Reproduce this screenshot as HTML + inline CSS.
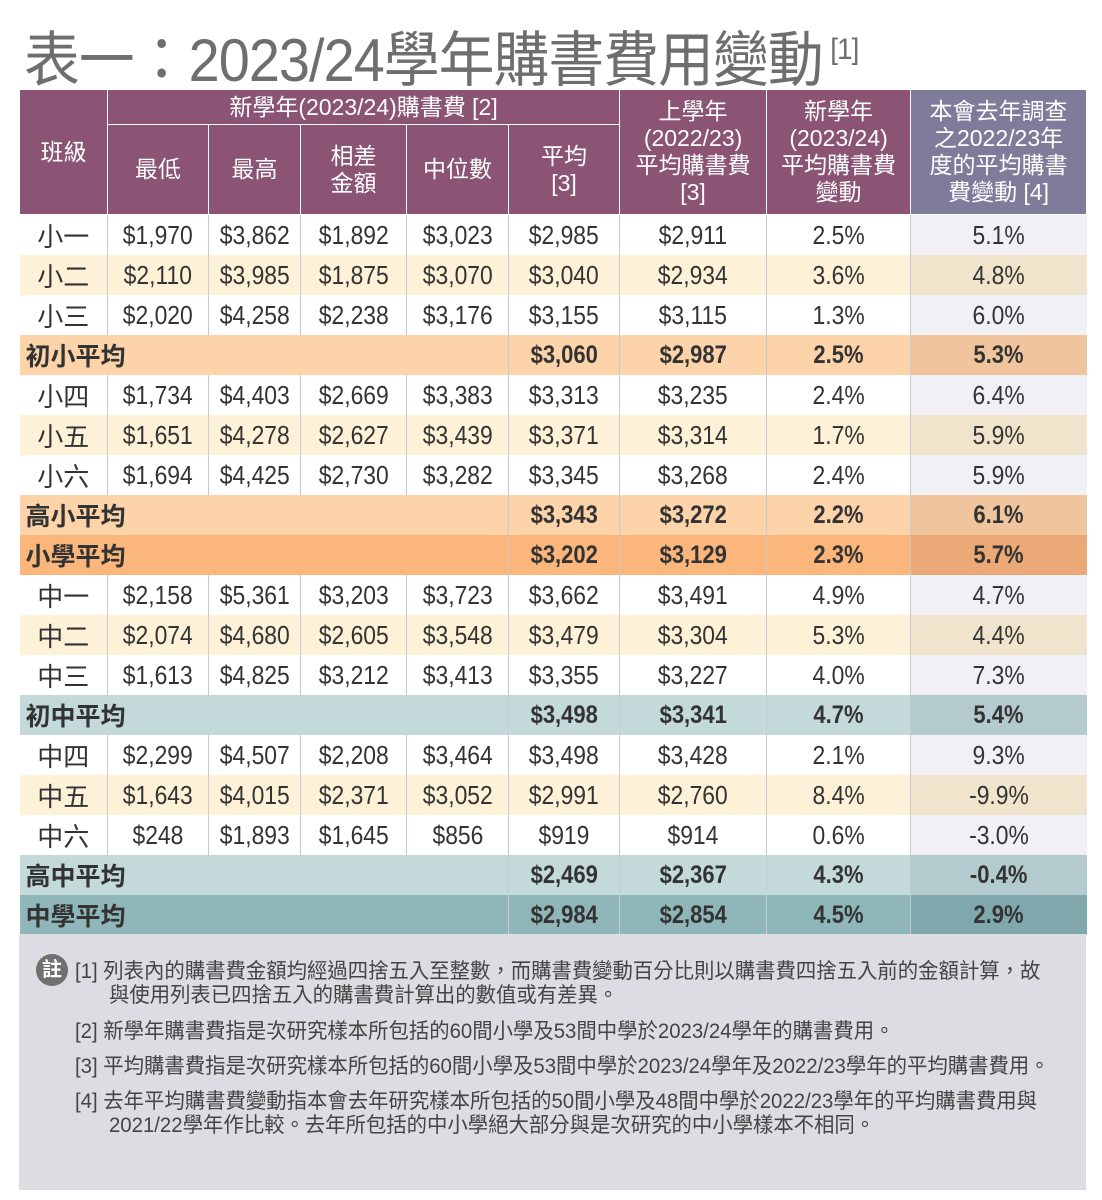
<!DOCTYPE html>
<html><head><meta charset="utf-8"><style>
body{margin:0;width:1102px;height:1200px;background:#fff;font-family:"Liberation Sans","Noto Sans CJK TC",sans-serif;position:relative;overflow:hidden}
.t{position:absolute;left:24px;top:12px;font-size:60px;color:#6e6e6e;white-space:nowrap;transform:scaleX(0.93);transform-origin:left top;letter-spacing:-1px}
.t sup{font-size:30px;vertical-align:22px;margin-left:8px}
table{position:absolute;left:19px;top:89px;border-collapse:collapse;table-layout:fixed;width:1067px}
td{padding:0;text-align:center;font-size:26px;color:#333;white-space:nowrap;overflow:hidden}
td span{display:inline-block;transform:scaleX(0.88)}
.h td{background:#8b5475;color:#fff;font-size:23px;line-height:27px;border:1px solid #fff}
.h td.g{background:#7e7b9b}
tr.r td{height:40px;border-left:1px solid #c9c9d6}
tr.r td:first-child{border-left:none}
tr.y td{background:#fdf1d7}
tr.y td:last-child{background:#f1e4cc}
tr.w td:last-child{background:#f0f0f5}
tr.s td{height:40px;font-weight:bold;font-size:25px}
tr.s td.l{text-align:left;padding-left:6px}
tr.a td{background:#fdd3aa} tr.a td:last-child{background:#f0c59d}
tr.b td{background:#fbb67b} tr.b td:last-child{background:#eaa977}
tr.c td{background:#c3d9da} tr.c td:last-child{background:#b3cbce}
tr.d td{background:#8fb6b8} tr.d td:last-child{background:#80a8ac}
tr.s td+td{border-left:1px solid #c9c9d6}
.n{position:absolute;left:19px;top:934px;width:1067px;height:256px;background:#dcdce2;color:#444;font-size:21px}
.n p{position:absolute;margin:0;left:56px;white-space:nowrap;line-height:24px;transform:scaleX(0.97);transform-origin:left top}
.ic{position:absolute;left:17px;top:20px;width:32px;height:32px;border-radius:50%;background:#707070;color:#fff;font-size:20px;text-align:center;line-height:32px;font-weight:bold}
</style></head><body>
<div class="t">表一：2023/24學年購書費用變動<sup>[1]</sup></div>
<table>
<colgroup><col style="width:88px"><col style="width:101px"><col style="width:92px"><col style="width:106px"><col style="width:102px"><col style="width:111px"><col style="width:147px"><col style="width:144px"><col style="width:176px"></colgroup>
<tr class="h"><td rowspan="2">班級</td><td colspan="5" style="height:34px">新學年(2023/24)購書費 [2]</td><td rowspan="2">上學年<br>(2022/23)<br>平均購書費<br>[3]</td><td rowspan="2">新學年<br>(2023/24)<br>平均購書費<br>變動</td><td rowspan="2" class="g">本會去年調查<br>之2022/23年<br>度的平均購書<br>費變動 [4]</td></tr>
<tr class="h"><td style="height:89px">最低</td><td>最高</td><td>相差<br>金額</td><td>中位數</td><td>平均<br>[3]</td></tr>
<tr class="r w"><td>小一</td><td><span>$1,970</span></td><td><span>$3,862</span></td><td><span>$1,892</span></td><td><span>$3,023</span></td><td><span>$2,985</span></td><td><span>$2,911</span></td><td><span>2.5%</span></td><td><span>5.1%</span></td></tr>
<tr class="r y"><td>小二</td><td><span>$2,110</span></td><td><span>$3,985</span></td><td><span>$1,875</span></td><td><span>$3,070</span></td><td><span>$3,040</span></td><td><span>$2,934</span></td><td><span>3.6%</span></td><td><span>4.8%</span></td></tr>
<tr class="r w"><td>小三</td><td><span>$2,020</span></td><td><span>$4,258</span></td><td><span>$2,238</span></td><td><span>$3,176</span></td><td><span>$3,155</span></td><td><span>$3,115</span></td><td><span>1.3%</span></td><td><span>6.0%</span></td></tr>
<tr class="s a"><td colspan="5" class="l">初小平均</td><td><span>$3,060</span></td><td><span>$2,987</span></td><td><span>2.5%</span></td><td><span>5.3%</span></td></tr>
<tr class="r w"><td>小四</td><td><span>$1,734</span></td><td><span>$4,403</span></td><td><span>$2,669</span></td><td><span>$3,383</span></td><td><span>$3,313</span></td><td><span>$3,235</span></td><td><span>2.4%</span></td><td><span>6.4%</span></td></tr>
<tr class="r y"><td>小五</td><td><span>$1,651</span></td><td><span>$4,278</span></td><td><span>$2,627</span></td><td><span>$3,439</span></td><td><span>$3,371</span></td><td><span>$3,314</span></td><td><span>1.7%</span></td><td><span>5.9%</span></td></tr>
<tr class="r w"><td>小六</td><td><span>$1,694</span></td><td><span>$4,425</span></td><td><span>$2,730</span></td><td><span>$3,282</span></td><td><span>$3,345</span></td><td><span>$3,268</span></td><td><span>2.4%</span></td><td><span>5.9%</span></td></tr>
<tr class="s a"><td colspan="5" class="l">高小平均</td><td><span>$3,343</span></td><td><span>$3,272</span></td><td><span>2.2%</span></td><td><span>6.1%</span></td></tr>
<tr class="s b"><td colspan="5" class="l">小學平均</td><td><span>$3,202</span></td><td><span>$3,129</span></td><td><span>2.3%</span></td><td><span>5.7%</span></td></tr>
<tr class="r w"><td style="height:37px">中一</td><td><span>$2,158</span></td><td><span>$5,361</span></td><td><span>$3,203</span></td><td><span>$3,723</span></td><td><span>$3,662</span></td><td><span>$3,491</span></td><td><span>4.9%</span></td><td><span>4.7%</span></td></tr>
<tr class="r y"><td style="height:38px">中二</td><td><span>$2,074</span></td><td><span>$4,680</span></td><td><span>$2,605</span></td><td><span>$3,548</span></td><td><span>$3,479</span></td><td><span>$3,304</span></td><td><span>5.3%</span></td><td><span>4.4%</span></td></tr>
<tr class="r w"><td style="height:39px">中三</td><td><span>$1,613</span></td><td><span>$4,825</span></td><td><span>$3,212</span></td><td><span>$3,413</span></td><td><span>$3,355</span></td><td><span>$3,227</span></td><td><span>4.0%</span></td><td><span>7.3%</span></td></tr>
<tr class="s c"><td colspan="5" class="l">初中平均</td><td><span>$3,498</span></td><td><span>$3,341</span></td><td><span>4.7%</span></td><td><span>5.4%</span></td></tr>
<tr class="r w"><td>中四</td><td><span>$2,299</span></td><td><span>$4,507</span></td><td><span>$2,208</span></td><td><span>$3,464</span></td><td><span>$3,498</span></td><td><span>$3,428</span></td><td><span>2.1%</span></td><td><span>9.3%</span></td></tr>
<tr class="r y"><td>中五</td><td><span>$1,643</span></td><td><span>$4,015</span></td><td><span>$2,371</span></td><td><span>$3,052</span></td><td><span>$2,991</span></td><td><span>$2,760</span></td><td><span>8.4%</span></td><td><span>-9.9%</span></td></tr>
<tr class="r w"><td>中六</td><td><span>$248</span></td><td><span>$1,893</span></td><td><span>$1,645</span></td><td><span>$856</span></td><td><span>$919</span></td><td><span>$914</span></td><td><span>0.6%</span></td><td><span>-3.0%</span></td></tr>
<tr class="s c"><td colspan="5" class="l">高中平均</td><td><span>$2,469</span></td><td><span>$2,367</span></td><td><span>4.3%</span></td><td><span>-0.4%</span></td></tr>
<tr class="s d"><td colspan="5" class="l">中學平均</td><td><span>$2,984</span></td><td><span>$2,854</span></td><td><span>4.5%</span></td><td><span>2.9%</span></td></tr>
</table>
<div class="n">
<div class="ic">註</div>
<p style="top:26px">[1] 列表內的購書費金額均經過四捨五入至整數，而購書費變動百分比則以購書費四捨五入前的金額計算，故<br>&nbsp;&nbsp;&nbsp;&nbsp;&nbsp;&nbsp;與使用列表已四捨五入的購書費計算出的數值或有差異。</p>
<p style="top:86px">[2] 新學年購書費指是次研究樣本所包括的60間小學及53間中學於2023/24學年的購書費用。</p>
<p style="top:121px">[3] 平均購書費指是次研究樣本所包括的60間小學及53間中學於2023/24學年及2022/23學年的平均購書費用。</p>
<p style="top:156px">[4] 去年平均購書費變動指本會去年研究樣本所包括的50間小學及48間中學於2022/23學年的平均購書費用與<br>&nbsp;&nbsp;&nbsp;&nbsp;&nbsp;&nbsp;2021/22學年作比較。去年所包括的中小學絕大部分與是次研究的中小學樣本不相同。</p>
</div>
</body></html>
